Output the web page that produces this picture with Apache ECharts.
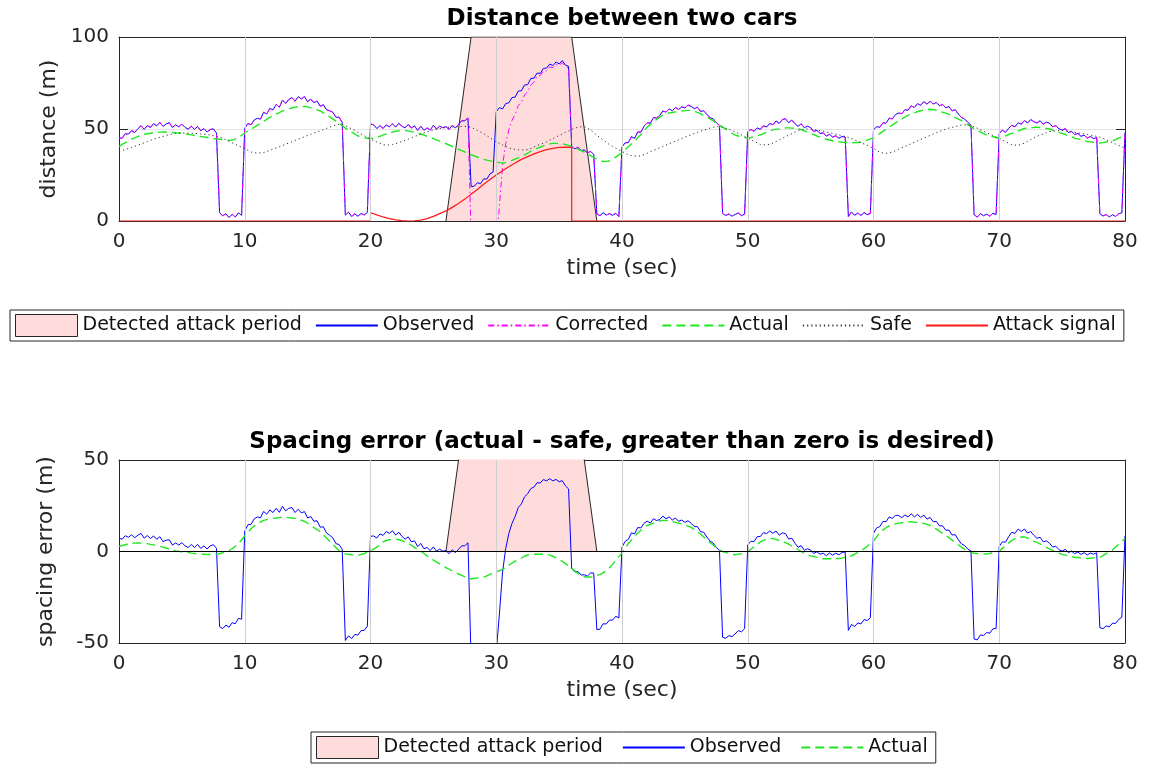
<!DOCTYPE html>
<html>
<head>
<meta charset="utf-8">
<script src="https://cdn.jsdelivr.net/npm/echarts@6/dist/echarts.min.js"></script>
<style>
html,body{margin:0;padding:0;background:#fff;}
#chart{width:1152px;height:764px;}
</style>
</head>
<body>
<div id="chart"></div>
<script>
// ---------------- data ----------------
// time grid: 0 .. 80 s, step 0.25 s
const timeStart = 0;
const timeStep = 0.25;

// Observed distance (m), one row per second
const observed = [
45.0,45.0,47.5,47.2, 49.1,48.1,50.1,51.8, 49.8,51.8,50.9,52.9, 51.7,53.6,51.4,52.7,
53.4,50.8,52.3,51.2, 52.6,50.9,49.9,51.5, 49.8,51.4,49.0,50.2, 48.4,49.7,50.1,47.8,
4.5,2.8,3.9,1.9, 3.6,2.2,4.4,3.1,
50.4,53.0,52.3,54.9, 55.8,55.4,59.1,58.2, 61.2,60.4,63.4,61.8, 65.7,63.9,66.0,67.1,
65.1,67.6,66.3,67.6, 64.8,66.2,64.3,65.2, 62.3,63.2,60.5,59.9, 59.1,56.4,56.4,53.6,
3.2,4.8,2.5,3.9, 2.6,4.1,3.3,4.6,
52.8,52.2,50.3,51.8, 50.3,52.2,51.2,52.9, 51.0,53.1,51.5,50.6, 52.5,50.5,51.7,49.2,
51.6,49.3,50.6,49.4, 52.0,50.0,51.5,50.7, 51.3,49.8,52.0,50.6, 52.5,54.5,54.5,56.0,
18.7,18.9,20.8,20.3, 22.9,22.8,25.6,26.6,
59.4,61.6,60.9,63.8, 64.2,67.1,67.3,70.6, 70.8,73.9,74.1,77.5, 77.6,80.4,80.2,82.9,
83.1,85.3,84.5,86.4, 85.4,87.2,84.8,84.0,
40.4,39.2,40.1,38.3, 38.6,37.0,37.8,36.2,
3.8,2.9,4.5,3.2, 4.0,3.1,4.2,2.4,
40.2,42.5,42.6,45.8, 44.9,48.4,48.3,51.5, 53.4,53.1,56.2,56.0, 57.3,59.8,59.2,60.9,
59.9,61.7,60.6,62.0, 61.4,63.0,62.3,61.1, 61.8,59.6,59.9,57.8, 56.2,55.5,53.4,52.0,
4.1,3.0,3.8,2.6, 3.5,4.4,2.9,3.7,
48.6,49.8,48.7,50.6, 49.8,51.7,51.1,53.0, 52.3,54.4,53.0,55.1, 55.6,53.4,54.8,52.9,
51.5,52.8,50.7,51.5, 50.8,48.6,49.3,47.6, 47.9,46.1,47.2,45.6, 46.3,45.0,45.9,45.6,
2.4,4.9,3.1,4.3, 3.0,4.6,3.4,4.1,
49.5,51.3,50.9,53.4, 53.1,55.9,55.5,57.9, 58.7,58.3,60.5,60.2, 62.6,61.7,63.8,62.9,
64.9,63.5,65.1,63.6, 64.4,62.6,63.3,61.5, 62.2,59.9,60.5,58.1, 56.2,55.4,53.6,52.1,
3.4,2.1,4.0,2.9, 3.7,2.6,4.2,3.5,
47.6,49.3,48.2,50.4, 52.0,51.2,53.4,52.6, 54.6,53.3,55.1,54.0, 53.2,54.5,52.6,53.8,
53.1,51.2,51.8,50.1, 49.4,50.2,48.1,48.7, 47.0,47.6,46.0,46.7, 45.1,45.9,44.8,45.3,
4.0,2.7,3.5,2.2, 3.4,2.5,4.0,4.4,
48.0
];

// Corrected distance: identical to observed except during the attack window (28 s .. 35.75 s)
const correctedStart = 28;
const correctedDuringAttack = [
-8,-8.5,-9,-9.5, -10,-10.5,-11,-11.5,
-12,8,30,42, 49.5,54.6,58.0,62.7, 64.6,68.5,70.4,73.9,
75.5,78.6,79.1,81.6, 81.6,83.7,83.4,85.0, 84.6,86.0,84.1,83.2
];

// Actual distance (m)
const actual = [
40.5,41.6,42.6,43.6, 44.5,45.2,45.9,46.5, 47.0,47.4,47.7,48.0, 48.2,48.3,48.4,48.4,
48.3,48.1,47.9,47.8, 47.6,47.3,47.1,46.8, 46.5,46.2,45.9,45.7, 45.4,45.1,44.9,44.6,
44.4,44.2,44.0,43.8, 44.0,44.6,45.3,46.5,
47.8,48.9,49.9,51.0, 52.0,53.1,54.2,55.2, 56.3,57.2,58.1,58.9, 59.8,60.4,60.9,61.4,
61.9,62.1,62.3,62.2, 62.0,61.5,60.9,60.4, 59.8,58.8,57.7,56.6, 55.5,54.3,53.0,51.8,
50.5,49.4,48.3,47.3, 46.2,45.7,45.2,45.0,
44.8,45.0,45.3,46.0, 46.8,47.3,47.8,48.3, 48.8,49.0,49.2,49.1, 49.0,48.6,48.2,47.7,
47.3,46.7,46.0,45.4, 44.8,44.1,43.4,42.7, 42.0,41.3,40.5,39.8, 39.0,38.3,37.5,36.8,
36.0,35.4,34.8,34.1, 33.5,33.1,32.7,32.4,
32.0,31.7,31.5,31.8, 32.3,32.9,33.6,34.3, 35.0,36.0,36.9,37.9, 38.8,39.5,40.2,40.8,
41.5,41.9,42.2,42.2, 42.2,41.9,41.6,41.1, 40.5,39.8,39.0,38.3, 37.5,36.5,35.5,34.5,
33.5,32.8,32.3,32.4, 32.6,33.6,34.7,35.9,
37.0,38.7,40.3,41.9, 43.5,45.3,47.0,49.0, 51.0,52.4,53.8,55.2, 56.5,57.5,58.3,58.7,
59.0,59.3,59.6,59.8, 60.0,60.1,60.1,59.6, 59.0,58.2,57.3,56.4, 55.5,54.4,53.2,52.1,
51.0,49.9,48.8,47.7, 46.7,46.2,45.6,45.3,
45.0,45.4,45.9,46.3, 46.8,47.5,48.2,48.8, 49.5,49.8,50.1,50.4, 50.6,50.6,50.5,50.4,
50.3,49.6,49.0,48.3, 47.6,46.9,46.2,45.5, 44.8,44.4,44.0,43.6, 43.2,43.0,42.8,42.7,
42.5,42.5,42.6,42.7, 42.8,43.4,44.0,44.6,
45.2,46.4,47.5,48.7, 49.8,51.0,52.2,53.3, 54.5,55.5,56.4,57.4, 58.3,58.8,59.4,59.9,
60.4,60.6,60.7,60.5, 60.2,59.7,59.1,58.6, 58.0,57.1,56.3,55.4, 54.5,53.4,52.4,51.3,
50.2,49.3,48.4,47.5, 46.6,46.2,45.8,45.4,
45.0,45.7,46.3,47.0, 47.6,48.3,49.0,49.6, 50.3,50.5,50.7,50.8, 51.0,50.8,50.5,50.3,
50.0,49.4,48.8,48.2, 47.6,47.0,46.3,45.7, 45.0,44.6,44.1,43.7, 43.2,43.0,42.8,42.5,
42.3,42.6,42.9,43.1, 43.4,44.2,45.0,45.7,
46.5
];

// Safe distance (m)
const safe = [
37.7,38.3,38.9,39.4, 40.0,40.6,41.2,41.9, 42.5,43.1,43.8,44.4, 45.0,45.5,46.0,46.5,
47.0,47.3,47.6,47.7, 47.8,47.8,47.7,47.7, 47.6,47.5,47.3,47.2, 47.0,46.7,46.4,46.0,
45.6,44.9,44.1,43.3, 42.5,41.7,40.9,40.1,
39.3,38.4,37.5,37.1, 36.9,37.0,37.2,37.8, 38.5,39.1,39.8,40.4, 41.0,41.7,42.4,43.1,
43.8,44.5,45.2,45.8, 46.5,47.1,47.8,48.4, 49.0,49.7,50.3,51.0, 51.6,52.1,52.6,52.4,
51.8,50.9,50.1,49.2, 48.3,47.3,46.4,45.4,
44.5,43.7,42.9,42.2, 41.5,41.3,41.3,41.6, 42.0,42.6,43.2,43.9, 44.5,45.2,45.9,46.5,
47.2,47.8,48.4,48.9, 49.5,49.8,50.2,50.5, 50.8,51.0,51.1,51.2, 51.3,51.4,51.4,51.2,
51.0,50.1,49.2,48.4, 47.5,46.4,45.2,44.1,
43.0,42.2,41.3,40.5, 39.7,39.3,38.9,38.7, 38.6,38.6,38.8,39.5, 40.3,41.0,41.7,42.3,
43.0,43.9,44.8,45.6, 46.5,47.3,48.2,49.0, 49.8,50.4,51.0,51.2, 51.3,50.4,49.5,48.0,
46.5,45.3,44.0,42.8, 41.5,40.6,39.6,38.7,
37.8,36.9,36.0,35.6, 35.3,35.3,35.4,36.1, 36.8,37.6,38.3,39.1, 39.8,40.5,41.3,42.0,
42.7,43.4,44.1,44.8, 45.5,46.2,46.9,47.5, 48.2,48.8,49.4,49.9, 50.5,50.9,51.2,51.3,
51.0,50.4,49.8,49.1, 48.5,47.6,46.8,45.9,
45.0,44.2,43.3,42.5, 41.6,41.4,41.3,41.8, 42.3,43.2,44.1,44.9, 45.8,46.6,47.5,48.3,
49.2,49.6,50.0,50.0, 50.0,49.7,49.4,49.1, 48.8,48.4,48.0,47.6, 47.2,46.8,46.4,45.9,
45.5,44.8,44.1,43.3, 42.6,41.8,41.1,40.3,
39.5,38.4,37.3,37.0, 36.8,37.0,37.4,38.2, 39.0,39.8,40.5,41.3, 42.0,42.8,43.5,44.3,
45.0,45.8,46.5,47.3, 48.0,48.6,49.3,49.9, 50.5,50.9,51.3,51.7, 52.1,52.2,52.3,51.8,
51.2,50.4,49.6,48.8, 48.0,47.2,46.4,45.6,
44.8,44.0,43.1,42.3, 41.5,41.3,41.1,41.7, 42.3,43.2,44.2,45.1, 46.0,46.7,47.3,48.0,
48.6,48.8,48.9,49.1, 49.2,49.0,48.7,48.5, 48.2,47.9,47.6,47.3, 47.0,46.7,46.3,46.0,
45.6,44.9,44.1,43.4, 42.6,41.8,41.1,40.3,
39.5
];

// Attack signal (m)
const attackTime = [0,20,20,20.5,21,21.5,22,22.5,23,23.5,24,24.5,25,25.5,26,26.5,27,27.5,28,28.5,
  29,29.5,30,30.5,31,31.5,32,32.5,33,33.5,34,34.5,35,35.5,36,36,80];
const attackSignal = [0,0,4.5,3.3,2.2,1.3,0.6,0.2,0,0.1,0.5,1.3,2.5,4.0,5.5,7.4,9.5,11.9,14.5,17.1,
  20,22.5,25,27.3,29.5,31.5,33.5,35,36.5,37.7,38.8,39.5,40,40.1,40,0,0];

// Detected attack period (detector output, drawn as a shaded area)
const detectTime = [26, 28, 36, 38];
const detectLevel = [0, 100, 100, 0];

// axis ticks
const timeTicks = [0, 10, 20, 30, 40, 50, 60, 70, 80];
const distanceTicks = [0, 50, 100];
const spacingTicks = [-50, 0, 50];

// ---------------- chart ----------------
const FONT = 'DejaVu Sans';
const INK = '#262626';
const GRIDC = '#e3e3e3';
const PINK = '#ffdcdc';

const time = observed.map((_, i) => +(timeStart + i * timeStep).toFixed(2));
const corrOffset = Math.round((correctedStart - timeStart) / timeStep);
const corrected = observed.map((v, i) => {
  const k = i - corrOffset;
  return (k >= 0 && k < correctedDuringAttack.length) ? correctedDuringAttack[k] : v;
});
// bottom panel, as its title says: (distance) - safe
const spacingObserved = corrected.map((v, i) => +(v - safe[i]).toFixed(2));
const spacingActual = actual.map((v, i) => +(v - safe[i]).toFixed(2));
const pairs = (xs, ys) => xs.map((x, i) => [x, ys[i]]);

function xAxisCfg(gridIndex, position, withLabels, name, nameGap, nameStyle) {
  return {
    type: 'value', gridIndex, position,
    min: timeTicks[0], max: timeTicks[timeTicks.length - 1], interval: 10,
    axisLine: { show: true, onZero: false, lineStyle: { color: INK, width: 1 } },
    axisTick: { show: true, inside: true, length: 9, lineStyle: { color: INK, width: 1 } },
    axisLabel: { show: withLabels, fontFamily: FONT, fontSize: 20, color: INK, margin: 11 },
    splitLine: { show: withLabels, lineStyle: { color: GRIDC, width: 1 } },
    name, nameLocation: 'middle', nameGap,
    nameTextStyle: nameStyle
  };
}
function yAxisCfg(gridIndex, position, withLabels, ticks, name, nameGap) {
  return {
    type: 'value', gridIndex, position,
    min: ticks[0], max: ticks[ticks.length - 1], interval: ticks[1] - ticks[0],
    axisLine: { show: true, onZero: false, lineStyle: { color: INK, width: 1 } },
    axisTick: { show: true, inside: true, length: 9, lineStyle: { color: INK, width: 1 } },
    axisLabel: { show: withLabels, fontFamily: FONT, fontSize: 20, color: INK, margin: 10 },
    splitLine: { show: withLabels, lineStyle: { color: GRIDC, width: 1 } },
    name: withLabels ? name : '', nameLocation: 'middle', nameGap, nameRotate: 90,
    nameTextStyle: { fontFamily: FONT, fontSize: 22, color: INK }
  };
}
const labelStyle = { fontFamily: FONT, fontSize: 22, color: INK };
const titleStyle = { fontFamily: FONT, fontSize: 23, fontWeight: 'bold', color: '#000' };

const gridMarks = {
  silent: true, symbol: 'none', animation: false,
  label: { show: false },
  lineStyle: { color: '#cfcfcf', width: 1, type: 'solid' },
  data: timeTicks.slice(1, -1).map(t => ({ xAxis: t }))
};

function shading(xi, yi) {
  return {
    name: 'Detected attack period', type: 'line', xAxisIndex: xi, yAxisIndex: yi,
    data: pairs(detectTime, detectLevel), symbol: 'none', clip: true, z: 1,
    lineStyle: { color: INK, width: 1 },
    itemStyle: { color: PINK, borderColor: INK },
    areaStyle: { color: PINK, opacity: 1 },
    markLine: gridMarks
  };
}
const lineBase = { type: 'line', symbol: 'none', showSymbol: false, clip: true, z: 2 };

const patchItem = { name: 'Detected attack period', icon: 'rect',
  itemStyle: { color: PINK, borderColor: INK, borderWidth: 1, opacity: 1 } };
function legendCfg(left, top, gap, names) {
  return {
    left, top, orient: 'horizontal', selectedMode: false,
    padding: [4, 8, 4, 5], itemWidth: 62, itemHeight: 22, itemGap: gap,
    borderColor: INK, borderWidth: 1, backgroundColor: '#fff',
    itemStyle: { opacity: 0 },
    textStyle: { fontFamily: FONT, fontSize: 19, color: '#111' },
    data: [patchItem].concat(names)
  };
}

const option = {
  animation: false,
  backgroundColor: '#fff',
  textStyle: { fontFamily: FONT },
  grid: [
    { left: 119, right: 27, top: 37, height: 184 },
    { left: 119, right: 27, top: 460, height: 183 }
  ],
  xAxis: [
    xAxisCfg(0, 'bottom', true, 'time (sec)', 36, labelStyle),
    xAxisCfg(0, 'top', false, 'Distance between two cars', 6, titleStyle),
    xAxisCfg(1, 'bottom', true, 'time (sec)', 36, labelStyle),
    xAxisCfg(1, 'top', false, 'Spacing error (actual - safe, greater than zero is desired)', 6, titleStyle)
  ],
  yAxis: [
    yAxisCfg(0, 'left', true, distanceTicks, 'distance (m)', 58),
    yAxisCfg(0, 'right', false, distanceTicks, '', 0),
    yAxisCfg(1, 'left', true, spacingTicks, 'spacing error (m)', 62),
    yAxisCfg(1, 'right', false, spacingTicks, '', 0)
  ],
  legend: [
    legendCfg(10, 310, 13, ['Observed', 'Corrected', 'Actual', 'Safe', 'Attack signal']),
    legendCfg(311, 732, 19, ['Observed', 'Actual'])
  ],
  series: [
    shading(0, 0),
    Object.assign({}, lineBase, { name: 'Observed', xAxisIndex: 0, yAxisIndex: 0,
      data: pairs(time, observed), lineStyle: { color: '#0000ff', width: 1 }, itemStyle: { color: '#0000ff' } }),
    Object.assign({}, lineBase, { name: 'Corrected', xAxisIndex: 0, yAxisIndex: 0,
      data: pairs(time, corrected), lineStyle: { color: '#ff00ff', width: 1, type: [6, 3, 1.5, 3] }, itemStyle: { color: '#ff00ff' } }),
    Object.assign({}, lineBase, { name: 'Actual', xAxisIndex: 0, yAxisIndex: 0,
      data: pairs(time, actual), lineStyle: { color: '#1ee81e', width: 1.4, type: [9, 5] }, itemStyle: { color: '#1ee81e' } }),
    Object.assign({}, lineBase, { name: 'Safe', xAxisIndex: 0, yAxisIndex: 0,
      data: pairs(time, safe), lineStyle: { color: '#333333', width: 1, type: [1.2, 3] }, itemStyle: { color: '#333333' } }),
    Object.assign({}, lineBase, { name: 'Attack signal', xAxisIndex: 0, yAxisIndex: 0,
      data: pairs(attackTime, attackSignal), lineStyle: { color: '#ff1a1a', width: 1.2 }, itemStyle: { color: '#ff1a1a' } }),

    shading(2, 2),
    Object.assign({}, lineBase, { name: 'Observed', xAxisIndex: 2, yAxisIndex: 2,
      data: pairs(time, spacingObserved), lineStyle: { color: '#0000ff', width: 1 }, itemStyle: { color: '#0000ff' } }),
    Object.assign({}, lineBase, { name: 'Actual', xAxisIndex: 2, yAxisIndex: 2,
      data: pairs(time, spacingActual), lineStyle: { color: '#1ee81e', width: 1.4, type: [9, 5] }, itemStyle: { color: '#1ee81e' },
      markLine: { silent: true, symbol: 'none', animation: false, label: { show: false },
        lineStyle: { color: '#000', width: 1.2, type: 'solid' }, data: [{ yAxis: 0 }] } })
  ]
};

const chart = echarts.init(document.getElementById('chart'), null, { renderer: 'canvas' });
chart.setOption(option);
</script>
</body>
</html>
